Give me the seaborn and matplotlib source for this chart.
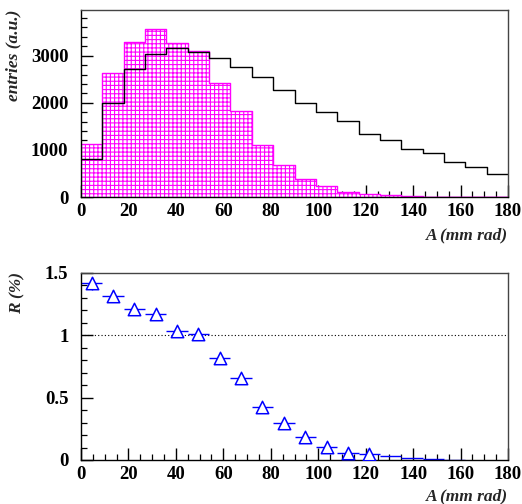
import matplotlib

matplotlib.use('Agg')
import pandas as pd
import matplotlib.pyplot as plt
import seaborn as sns
from matplotlib.ticker import MultipleLocator, FixedLocator

# ---- data ----
bin_edges = list(range(0, 181, 9))
bin_centers = [e + 4.5 for e in bin_edges[:-1]]

signal_counts = [1120, 2640, 3300, 3560, 3280, 3110, 2430, 1820, 1105, 683,
                 380, 225, 113, 70, 35, 12, 6, 3, 1, 1]
total_counts = [800, 2000, 2720, 3040, 3160, 3080, 2950, 2770, 2550, 2270,
                2000, 1810, 1610, 1340, 1210, 1010, 930, 750, 630, 490]

# ratio R (%) with markers
r_x = [4.5, 13.5, 22.5, 31.5, 40.5, 49.5, 58.5, 67.5, 76.5, 85.5, 94.5, 103.5, 112.5, 121.5]
r_val = [1.414, 1.313, 1.21, 1.166, 1.033, 1.006, 0.814, 0.654, 0.427, 0.294, 0.181, 0.104, 0.059, 0.048]
r_err = [0.055, 0.045, 0.042, 0.04, 0.038, 0.036, 0.032, 0.028, 0.024, 0.02, 0.016, 0.012, 0.01, 0.008]
# tail points: only error bars visible
t_x = [130.5, 139.5, 148.5, 157.5]
t_val = [0.03, 0.016, 0.008, 0.004]

hist_df = pd.DataFrame({'A': bin_centers, 'signal': signal_counts, 'total': total_counts})

sns.set_theme(style='ticks')
plt.rcParams['font.family'] = ['Liberation Serif', 'DejaVu Serif']
plt.rcParams['font.weight'] = 'bold'
plt.rcParams['hatch.linewidth'] = 0.8
plt.rcParams['hatch.color'] = '#ff00ff'
plt.rcParams['axes.linewidth'] = 1.0

fig = plt.figure(figsize=(5.22, 5.04), dpi=100)
ax1 = fig.add_axes([81 / 522, 1 - 197 / 504, 427 / 522, 187 / 504])
ax2 = fig.add_axes([81 / 522, 1 - 460 / 504, 427 / 522, 187.3 / 504])


def style_axis(ax):
    ax.tick_params(which='both', direction='in', top=False, right=False,
                   labelsize=13.5, colors='black')
    ax.tick_params(which='major', length=8.5, width=1.0)
    ax.tick_params(which='minor', length=4.3, width=0.9)
    ax.tick_params(axis='y', which='both', pad=9)
    ax.tick_params(axis='x', which='both', pad=4)
    for s in ['top', 'right']:
        ax.spines[s].set_color('#444444')
    for s in ['left', 'bottom']:
        ax.spines[s].set_color('black')


# ---- top: histograms ----
sns.histplot(data=hist_df, x='A', weights='signal', bins=bin_edges, element='step', fill=True,
             facecolor='white', edgecolor='#ff00ff', hatch='++++', linewidth=1.0,
             ax=ax1, zorder=1)
sns.histplot(data=hist_df, x='A', weights='total', bins=bin_edges, element='step', fill=False,
             color='black', linewidth=1.0, ax=ax1, zorder=2)
ax1.set_xlim(0, 180)
ax1.set_ylim(0, 3970)
ax1.xaxis.set_major_locator(MultipleLocator(20))
ax1.xaxis.set_minor_locator(MultipleLocator(5))
ax1.yaxis.set_major_locator(MultipleLocator(1000))
ax1.yaxis.set_minor_locator(MultipleLocator(200))
ax1.set_xlabel('')
ax1.set_ylabel('')
style_axis(ax1)
fig.text(508 / 522, 1 - 235 / 504, 'A (mm rad)', ha='right', va='center',
         fontsize=12.5, fontstyle='italic', fontweight='bold')
fig.text(13 / 522, 1 - 10 / 504, 'entries (a.u.)', ha='center', va='top', rotation=90,
         fontsize=12.5, fontstyle='italic', fontweight='bold')

# ---- bottom: ratio ----
ax2.axhline(1.0, color='black', linestyle=(0, (1, 2)), linewidth=0.8, zorder=1)
ax2.errorbar(r_x, r_val, xerr=4.5, yerr=r_err, fmt='none', ecolor='blue',
             elinewidth=1.0, capsize=0, zorder=2)
ax2.errorbar(t_x, t_val, xerr=4.5, fmt='none', ecolor='blue',
             elinewidth=1.0, capsize=0, zorder=2)
sns.scatterplot(x=r_x, y=r_val, marker='^', s=80, facecolor='white', edgecolor='blue',
                linewidth=1.1, ax=ax2, zorder=3)
ax2.set_xlim(0, 180)
ax2.set_ylim(0, 1.5)
ax2.xaxis.set_major_locator(MultipleLocator(20))
ax2.xaxis.set_minor_locator(MultipleLocator(5))
ax2.yaxis.set_major_locator(FixedLocator([0, 0.5, 1, 1.5]))
ax2.yaxis.set_minor_locator(MultipleLocator(0.1))
ax2.set_yticklabels(['0', '0.5', '1', '1.5'])
ax2.set_xlabel('')
ax2.set_ylabel('')
style_axis(ax2)
fig.text(508 / 522, 1 - 496 / 504, 'A (mm rad)', ha='right', va='center',
         fontsize=12.5, fontstyle='italic', fontweight='bold')
fig.text(17 / 522, 1 - 272 / 504, 'R (%)', ha='center', va='top', rotation=90,
         fontsize=12.5, fontstyle='italic', fontweight='bold')

# tick labels in bold, like the reference
for ax in (ax1, ax2):
    plt.setp(ax.get_xticklabels() + ax.get_yticklabels(), fontweight='bold')

fig.savefig('out.png', dpi=100)
